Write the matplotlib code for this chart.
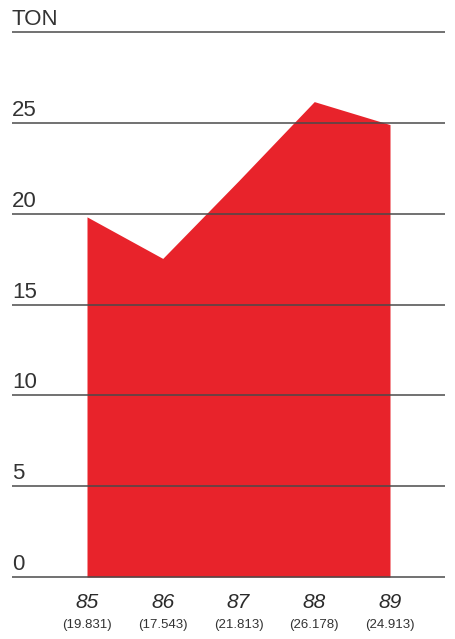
import matplotlib.pyplot as plt

plt.rcParams['font.family'] = ['Liberation Sans', 'DejaVu Sans']

years = [85, 86, 87, 88, 89]
tons = [19.831, 17.543, 21.813, 26.178, 24.913]
year_labels = ['85', '86', '87', '88', '89']
value_labels = ['(19.831)', '(17.543)', '(21.813)', '(26.178)', '(24.913)']
grid_levels = [0, 5, 10, 15, 20, 25, 30]
grid_labels = ['0', '5', '10', '15', '20', '25', 'TON']

# pixel -> data mapping (455x639 canvas)
px_per_x = 75.75
px_per_y = 18.16
x0 = 85 - 87 / px_per_x
x1 = 85 + (455 - 87) / px_per_x
y0 = -(639 - 577) / px_per_y
y1 = 577 / px_per_y

fig = plt.figure(figsize=(4.55, 6.39), dpi=100)
ax = fig.add_axes([0, 0, 1, 1])
ax.set_xlim(x0, x1)
ax.set_ylim(y0, y1)
ax.axis('off')

ax.fill_between(years, tons, 0, color='#e8232b', linewidth=0, zorder=1)

left = x0 + 12 / px_per_x
right = x0 + 445 / px_per_x
ax.hlines(grid_levels, left, right, color='#4a4a4a', linewidth=1.1, zorder=2)

for lvl, lab in zip(grid_levels, grid_labels):
    ax.text(left, lvl + 0.38, lab, fontsize=16, color='#333333',
            ha='left', va='baseline')

for x, yl, vl in zip(years, year_labels, value_labels):
    ax.text(x, -1.43, yl, fontsize=15, style='italic', color='#2a2a2a',
            ha='center', va='center')
    ax.text(x, -2.64, vl, fontsize=9.5, color='#333333',
            ha='center', va='center')

fig.savefig('out.png', dpi=100)
